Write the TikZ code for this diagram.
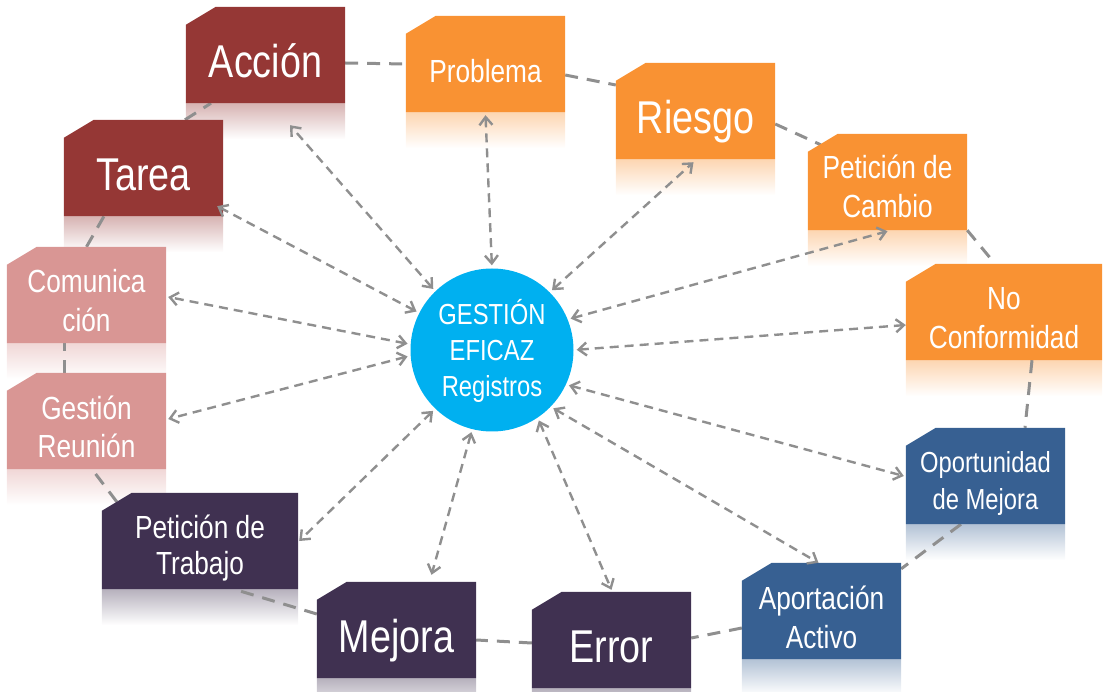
\documentclass[tikz,border=0pt]{standalone}
\usepackage{fontspec}
\setmainfont{Liberation Sans}[FakeStretch=0.82]
\usetikzlibrary{arrows.meta}

\definecolor{rojo}{HTML}{953735}
\definecolor{naranja}{HTML}{F99233}
\definecolor{rosa}{HTML}{D99694}
\definecolor{azul}{HTML}{376092}
\definecolor{morado}{HTML}{403151}
\definecolor{celeste}{HTML}{00B0F0}
\definecolor{gris}{HTML}{8F8F8F}

\pgfdeclarelayer{reflejo}
\pgfdeclarelayer{anillo}
\pgfdeclarelayer{fondo}
\pgfsetlayers{reflejo,anillo,fondo,main}

% caja con la esquina cortada y su reflejo
\newcommand{\pintacaja}[2]{%
  \begin{pgfonlayer}{fondo}
    \fill[#2] (#1.south west) -- ([yshift=-18pt]#1.north west) -- ([xshift=30pt]#1.north west)
      -- (#1.north east) -- (#1.south east) -- cycle;
  \end{pgfonlayer}
  \begin{pgfonlayer}{reflejo}
    \shade[top color=#2!38, bottom color=white] (#1.south west) rectangle ([yshift=-36pt]#1.south east);
  \end{pgfonlayer}}

\tikzset{
  bloque/.style={rectangle, minimum width=159pt, minimum height=96pt, inner sep=0pt, text=white, align=center},
  ancho/.style={bloque, minimum width=196pt},
  grande/.style={font=\fontsize{46}{50}\selectfont, text height=45pt, text depth=0pt},
  chico/.style={font=\fontsize{32}{39}\selectfont, text height=38pt, text depth=0pt},
  dos/.style={font=\fontsize{32}{39}\selectfont, text height=74pt, text depth=0pt},
  ronda/.style={gris, line width=3pt, dash pattern=on 13pt off 9pt},
  flecha/.style={gris, line width=2.4pt, dash pattern=on 9pt off 6pt,
    {Straight Barb[length=8pt,width=13pt]}-{Straight Barb[length=8pt,width=13pt]}, shorten <=3pt}
}

\begin{document}
\begin{tikzpicture}[x=1pt,y=-1pt]
\useasboundingbox (0,0) rectangle (1109,692);

% centro
\node[circle, fill=celeste, minimum size=163pt, inner sep=0pt, text=white, align=center,
  font=\fontsize{29}{36}\selectfont, text height=94pt, text depth=0pt] at (492,350) (gestion) {GESTIÓN\\EFICAZ\\Registros};

% cajas
\node[bloque, grande] at (265.5,55) (accion) {Acción};
\node[bloque, chico] at (485.5,64) (problema) {Problema};
\node[bloque, grande] at (695.5,111) (riesgo) {Riesgo};
\node[bloque, dos, text height=72pt] at (887.5,182) (cambio) {Petición de\\Cambio};
\node[ancho, dos] at (1004,312) (noconf) {No\\Conformidad};
\node[bloque, dos, font=\fontsize{29}{36}\selectfont, text height=66pt] at (985.5,476) (oportunidad) {Oportunidad\\de Mejora};
\node[bloque, dos] at (821.5,611) (aportacion) {Aportación\\Activo};
\node[bloque, grande] at (611.5,640) (error) {Error};
\node[bloque, grande] at (396.5,630) (mejora) {Mejora};
\node[ancho, dos, font=\fontsize{32}{36}\selectfont, text height=66pt] at (200,541) (trabajo) {Petición de\\Trabajo};
\node[bloque, dos] at (86.5,421) (reunion) {Gestión\\Reunión};
\node[bloque, dos] at (86.5,295) (comunicacion) {Comunica\\ción};
\node[bloque, grande] at (143.5,168) (tarea) {Tarea};

\pintacaja{accion}{rojo}
\pintacaja{tarea}{rojo}
\pintacaja{problema}{naranja}
\pintacaja{riesgo}{naranja}
\pintacaja{cambio}{naranja}
\pintacaja{noconf}{naranja}
\pintacaja{oportunidad}{azul}
\pintacaja{aportacion}{azul}
\pintacaja{error}{morado}
\pintacaja{mejora}{morado}
\pintacaja{trabajo}{morado}
\pintacaja{reunion}{rosa}
\pintacaja{comunicacion}{rosa}

% anillo
\begin{pgfonlayer}{anillo}
\draw[ronda] ([yshift=-8pt]accion.east) -- (problema.west);
\draw[ronda] ([yshift=-11pt]problema.east) -- ([yshift=26pt]riesgo.west);
\draw[ronda] ([yshift=-13pt]riesgo.east) -- ([xshift=13pt,yshift=-11pt]cambio.north west);
\draw[ronda] (cambio.south east) -- ([xshift=-9pt]noconf.north);
\draw[ronda] ([xshift=28pt]noconf.south) -- ([xshift=39.5pt]oportunidad.north);
\draw[ronda] ([xshift=-24.5pt]oportunidad.south) -- ([yshift=-6pt]aportacion.north east);
\draw[ronda] ([yshift=-17pt]aportacion.west) -- ([yshift=2pt]error.east);
\draw[ronda] ([yshift=-3pt]error.west) -- ([yshift=-10pt]mejora.east);
\draw[ronda] ([yshift=16pt]mejora.west) -- ([xshift=34pt]trabajo.south);
\draw[ronda] ([xshift=15pt,yshift=-9pt]trabajo.north west) -- ([xshift=5.5pt]reunion.south);
\draw[ronda] ([xshift=-22.5pt]reunion.north) -- ([xshift=-22.5pt]comunicacion.south);
\draw[ronda] (comunicacion.north) -- ([xshift=-39.5pt]tarea.south);
\draw[ronda] ([xshift=41.5pt]tarea.north) -- ([xshift=-54.5pt]accion.south);
\end{pgfonlayer}

% flechas
\draw[flecha] (gestion.134) -- ([xshift=24.5pt,yshift=-22pt]accion.south);
\draw[flecha] (gestion.90) -- ([yshift=-3pt]problema.south);
\draw[flecha] (gestion.45) -- ([xshift=-2pt,yshift=-3pt]riesgo.south);
\draw[flecha] (gestion.22) -- ([yshift=-1pt]cambio.south);
\draw[flecha] (gestion.0) -- ([yshift=-13pt]noconf.west);
\draw[flecha] (gestion.-25) -- ([xshift=-2pt]oportunidad.west);
\draw[flecha] (gestion.-44) -- ([xshift=-3pt]aportacion.north);
\draw[flecha] (gestion.-56) -- ([yshift=2pt]error.north);
\draw[flecha] (gestion.-104) -- ([xshift=35pt,yshift=7pt]mejora.north);
\draw[flecha] (gestion.-134) -- ([xshift=1pt]trabajo.east);
\draw[flecha] (gestion.-176) -- ([xshift=2pt,yshift=2pt]reunion.east);
\draw[flecha] (gestion.176) -- ([xshift=2pt,yshift=-2pt]comunicacion.east);
\draw[flecha] (gestion.153) -- ([xshift=-6pt,yshift=10pt]tarea.south east);
\end{tikzpicture}
\end{document}
